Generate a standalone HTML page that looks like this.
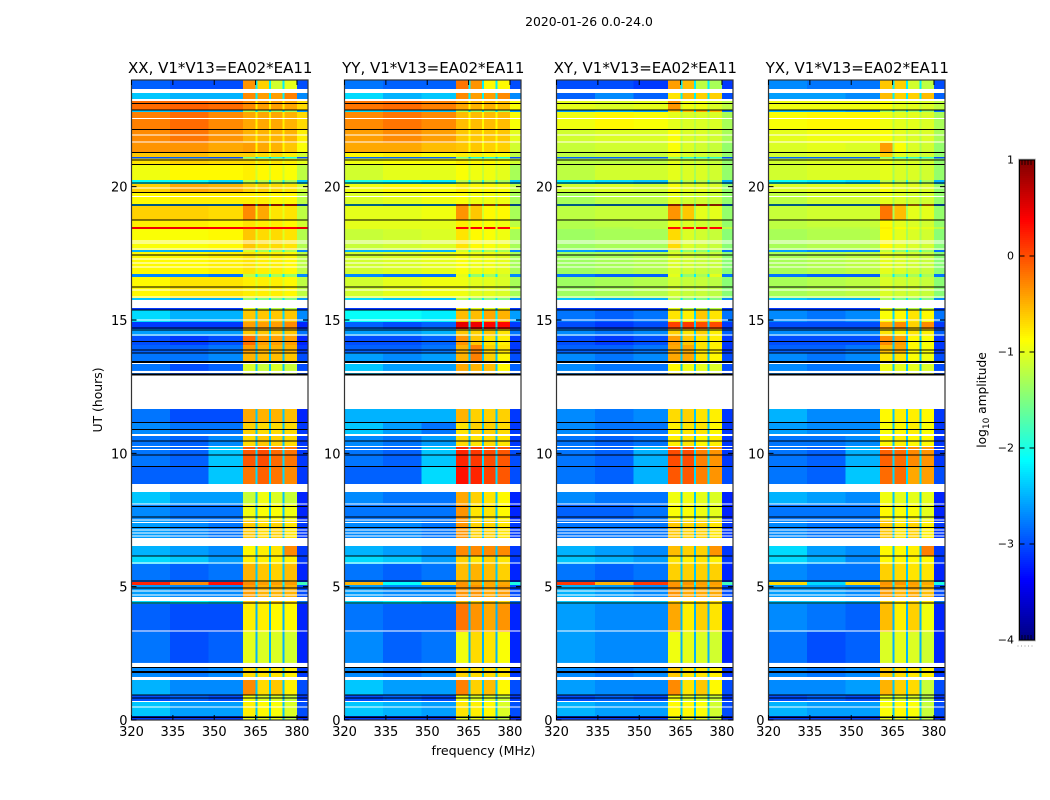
<!DOCTYPE html>
<html>
<head>
<meta charset="utf-8">
<title>2020-01-26 amplitude waterfall</title>
<style>
html,body{margin:0;padding:0;background:#fff;width:1050px;height:800px;overflow:hidden}
svg{display:block}
text{font-family:"DejaVu Sans","Liberation Sans",sans-serif;fill:#000}
</style>
</head>
<body>
<svg id="chart" xmlns="http://www.w3.org/2000/svg" width="1050" height="800" viewBox="0 0 1050 800">
  <text x="589" y="26" font-size="12.4" text-anchor="middle">2020-01-26 0.0-24.0</text>
  <text x="483.5" y="755" font-size="12.6" text-anchor="middle">frequency (MHz)</text>
  <text transform="translate(102,400) rotate(-90)" font-size="12.4" text-anchor="middle">UT (hours)</text>
  <text transform="translate(986,400) rotate(-90)" font-size="12.2" text-anchor="middle">log<tspan font-size="9" dy="3">10</tspan><tspan dy="-3"> amplitude</tspan></text>
  <g id="panels"></g>
  <g id="colorbar"></g>
</svg>
<script>
// Frequency axis (MHz): column edges, and which value of a row each column reads.
const freqEdges = [320,334,348,360.5,365,365.7,369.9,370.6,374.8,375.5,380,384];
const freqColumnValue = [0,1,2,3,7,4,7,5,7,6,8];
const freqTicks = [320,335,350,365,380];
const hourTicks = [0,5,10,15,20];
const colorTicks = [1,0,-1,-2,-3,-4];
const panelTitles = ["XX, V1*V13=EA02*EA11","YY, V1*V13=EA02*EA11","XY, V1*V13=EA02*EA11","YX, V1*V13=EA02*EA11"];

// UT hour range of each time band, listed top-down.
const bandHours = [
[24,23.66],[23.51,23.29],[23.21,22.88],[22.88,22.80],[22.80,22.13],[22.13,21.64],[21.64,21.30],[21.30,21.11],
[21.11,21.06],[21.06,20.81],[20.81,20.25],[20.25,20.10],[20.10,19.76],[19.76,19.35],[19.35,19.28],[19.28,18.75],
[18.75,18.49],[18.49,18.41],[18.41,17.63],[17.63,17.55],[17.55,16.73],[16.73,16.61],[16.61,15.83],[15.83,15.75],
[15.45,15.38],[15.38,14.93],[14.93,14.66],[14.66,14.40],[14.40,14.06],[14.06,13.76],[13.76,13.44],[13.35,13.00],
[11.66,11.18],[11.18,10.72],[10.65,10.24],[10.24,9.52],[9.52,8.85],[8.55,8.10],[8.10,7.50],[7.50,6.83],
[6.53,6.15],[6.15,5.85],[5.85,5.18],[5.18,5.06],[5.06,4.61],[4.46,4.35],[4.35,3.30],[3.30,2.14],
[1.99,1.61],[1.50,0.94],[0.94,0.71],[0.71,0.15],[0.15,0]
];

// log10 amplitude per band: 320-334, 334-348, 348-360, four high sub-bands, notches, 380-384.
const xxValues = [
[-2.9,-3,-3,-.35,-.65,-1.1,-1,-2.2,-3],[-2.4,-2.5,-2.5,-.3,-.4,-.4,-.25,-2.2,-2.7],[-.15,-.1,-.15,-.3,-.4,-.4,-.45,-.8,-.7],[-2.4,-2.5,-2.5,-1.3,-1.4,-1.4,-1.4,-2.3,-2.6],
[-.25,-.15,-.3,-.45,-.45,-.45,-.5,-.8,-.7],[-.3,-.2,-.35,-.5,-.5,-.5,-.5,-.8,-.8],[-.35,-.35,-.45,-.4,-.45,-.5,-.6,-.85,-.9],[-.6,-.55,-.65,-.65,-.7,-.7,-.8,-1,-1.1],
[-3,-2.9,-3,-1.6,-2,-2,-2,-2.5,-3],[-.75,-.65,-.7,-.7,-.75,-.75,-.8,-1,-1],[-.95,-.85,-.85,-.8,-.85,-.85,-.9,-1.1,-1.2],[-2.1,-2.1,-2.3,-1.2,-1.2,-1.2,-1.3,-2,-2.4],
[-.65,-.45,-.5,-.65,-.65,-.7,-.75,-1,-1.1],[-.85,-.8,-.8,-.8,-.8,-.85,-.85,-1,-1.2],[-2.5,-2.6,-2.6,.3,.2,.2,.2,-2,-2.8],[-.65,-.65,-.7,-.3,-.45,-.75,-.75,-1,-1.2],
[-.8,-.8,-.85,-.75,-.8,-.8,-.85,-1,-1.1],[.45,.45,.4,.3,.4,.4,.4,.4,.5],[-.9,-.9,-.85,-.6,-.7,-.7,-.75,-1.05,-1.25],[-2.5,-2.6,-2.6,-1.1,-1.3,-1.3,-1.3,-2,-2.7],
[-.85,-.85,-.8,-.75,-.8,-.8,-.85,-1.05,-1.2],[-2.7,-2.7,-2.8,-1.2,-1.4,-1.3,-1.4,-2.2,-2.7],[-.85,-.75,-.75,-.8,-.8,-.8,-.85,-1.05,-1.2],[-2.4,-2.5,-2.5,-1.4,-1.5,-1.5,-1.5,-2.2,-2.6],
[-3.1,-3.1,-3.1,-1,-1.2,-1.2,-1.2,-2.6,-3.1],[-2.3,-2.5,-2.5,-.6,-.6,-.6,-.6,-2.3,-2.7],[-3.1,-3.1,-3.1,-.4,-.4,-.4,-.3,-2.4,-3.2],[-2.6,-2.6,-2.6,-.6,-.6,-.6,-.6,-2.3,-2.8],
[-3,-3.1,-3,-.15,-.4,-.4,-.4,-2.4,-3.2],[-2.9,-2.9,-2.8,-.4,-.5,-.5,-.5,-2.4,-3.1],[-2.8,-2.8,-2.7,-.5,-.55,-.55,-.6,-2.4,-3],[-2.8,-3,-2.9,-1.05,-1.15,-1.05,-1.15,-2.4,-3],
[-2.8,-3,-3,-.45,-.5,-.5,-.55,-2.4,-3.2],[-2.7,-2.8,-2.8,-.65,-.7,-.7,-.7,-2.4,-3.1],[-2.8,-2.9,-2.7,-.7,-.6,-.65,-.7,-2.4,-3.1],[-2.8,-2.9,-2.4,-.05,.0,-.15,-.2,-2.3,-3.1],
[-2.9,-2.9,-2.4,-.2,-.1,-.2,-.3,-2.3,-3.1],[-2.4,-2.6,-2.6,-1.15,-.95,-1.05,-1.15,-2.4,-3.2],[-2.7,-2.8,-2.8,-.95,-.9,-.9,-.95,-2.4,-3.2],[-2.6,-2.7,-2.8,-.6,-.7,-.65,-.75,-2.4,-3.1],
[-2.5,-2.6,-2.7,-.85,-.8,-.75,-.3,-2.4,-3.1],[-2.3,-2.4,-2.6,-.8,-.8,-.8,-.8,-2.4,-3.1],[-2.8,-2.9,-2.8,-.5,-.6,-.65,-.55,-2.4,-3.2],[.2,-.3,.3,-.3,-.4,-.4,-.4,-2.2,-1.8],
[-2.6,-2.7,-2.7,-.4,-.5,-.5,-.5,-2.4,-3],[-2.3,-2.2,-2.3,-.6,-.7,-.6,-.7,-2.3,-2.8],[-2.9,-3,-3,-.8,-.8,-.85,-.85,-2.5,-3.2],[-2.8,-3,-2.9,-1,-1.05,-1.05,-1.1,-2.5,-3.2],
[-2.7,-2.8,-2.7,-.7,-.75,-.75,-.8,-2.4,-3.1],[-2.5,-2.7,-2.7,-.3,-.7,-.6,-.8,-2.4,-3],[-3,-2.9,-3,-.95,-1.05,-1.05,-1.15,-2.5,-3.1],[-2.4,-2.6,-2.6,-.8,-.85,-.9,-1.05,-2.4,-3],
[-3.1,-3.1,-3.1,-1,-1,-1,-1.2,-2.5,-3.2]
];
const yyValues = [
[-2.8,-2.9,-2.9,-.2,-.35,-.85,-.85,-2.2,-3],[-2.3,-2.5,-2.4,-.3,-.4,-.4,-.3,-2.2,-2.7],[-.2,-.15,-.25,-.45,-.5,-.5,-.55,-.85,-.9],[-2.3,-2.4,-2.4,-1.3,-1.4,-1.4,-1.4,-2.3,-2.6],
[-.3,-.2,-.3,-.55,-.55,-.55,-.55,-.85,-.9],[-.4,-.3,-.4,-.6,-.6,-.6,-.6,-.85,-1],[-.45,-.45,-.55,-.6,-.6,-.65,-.65,-.9,-1.1],[-.85,-.8,-.9,-.8,-.8,-.85,-.9,-1.05,-1.2],
[-2.9,-2.9,-2.9,-1.6,-2,-2,-2,-2.5,-3],[-.95,-.9,-.9,-.8,-.85,-.85,-.9,-1.1,-1.1],[-1.1,-1,-1,-.9,-.95,-.95,-1,-1.15,-1.3],[-2,-2.1,-2.2,-1.2,-1.2,-1.2,-1.3,-2,-2.4],
[-.95,-.85,-.9,-.8,-.85,-.85,-.9,-1.05,-1.2],[-1.05,-1,-.95,-.9,-.95,-.95,-.95,-1.15,-1.3],[-2.4,-2.5,-2.5,-.1,-.1,-.2,-.2,-2,-2.7],[-1,-1,-.95,-.35,-.6,-.85,-.85,-1.1,-1.3],
[-1,-1,-1,-.8,-.85,-.9,-.95,-1.1,-1.2],[-1,-1,-1,.35,.4,.4,.35,-1,-.9],[-1.15,-1.1,-1.05,-.75,-.85,-.9,-.95,-1.15,-1.3],[-2.5,-2.5,-2.5,-1.1,-1.3,-1.3,-1.3,-2,-2.7],
[-1.1,-1.05,-1,-.9,-.95,-.95,-1,-1.15,-1.3],[-2.7,-2.8,-2.8,-1,-1.4,-1.3,-1.1,-2.2,-2.7],[-1.1,-1,-.95,-.95,-1,-1,-1.05,-1.15,-1.3],[-2.3,-2.4,-2.4,-1.3,-1.5,-1.5,-1.5,-2.2,-2.6],
[-3.1,-3.1,-3.1,-.8,-1,-1,-1,-2.6,-3.1],[-2.1,-2.1,-2.2,-.55,-.55,-.45,-.5,-2.2,-2.6],[-2.9,-3,-2.9,.5,.45,.35,.35,-2.3,-3.1],[-2.6,-2.6,-2.5,-.6,-.65,-.6,-.75,-2.3,-2.8],
[-3,-3,-2.9,-.35,-.6,-.75,-.8,-2.4,-3.1],[-2.9,-2.9,-2.8,-.5,-.25,-.65,-.75,-2.4,-3.1],[-2.6,-2.7,-2.6,-.5,-.25,-.65,-.85,-2.4,-3],[-2.4,-2.6,-2.6,-.45,-.5,-.55,-.85,-2.4,-2.9],
[-2.5,-2.5,-2.5,-.5,-.65,-.65,-.65,-2.4,-3.1],[-2.4,-2.6,-2.8,-.75,-.65,-.65,-.7,-2.4,-3.1],[-2.7,-2.8,-2.6,-.7,-.75,-.7,-.75,-2.4,-3.1],[-2.8,-2.9,-2.4,.2,.1,.0,-.05,-2.3,-3],
[-2.9,-2.9,-2.3,.3,.2,.05,-.05,-2.3,-3],[-2.7,-2.8,-2.8,-.45,-.65,-.75,-.85,-2.4,-3.2],[-2.8,-2.8,-2.8,-.35,-.75,-.75,-.85,-2.4,-3.2],[-2.7,-2.7,-2.8,-.35,-.65,-.65,-.75,-2.4,-3.1],
[-2.5,-2.6,-2.7,-.3,-.3,-.3,-.3,-2.4,-3.1],[-2.3,-2.4,-2.6,-.65,-.75,-.65,-.75,-2.4,-3.1],[-2.8,-2.9,-2.8,-.55,-.5,-.55,-.65,-2.4,-3.2],[-.5,-2.1,-.7,-.35,-.45,-.45,-.45,-2.2,-2],
[-2.6,-2.7,-2.7,-.35,-.35,-.45,-.4,-2.4,-3],[-2.3,-2.2,-2.3,-.55,-.65,-.55,-.65,-2.3,-2.8],[-2.8,-2.9,-2.9,-.2,-.35,-.45,-.35,-2.5,-3.2],[-2.7,-2.9,-2.8,-.95,-.7,-.75,-.9,-2.5,-3.2],
[-2.7,-2.8,-2.7,-.65,-.7,-.7,-.75,-2.4,-3.1],[-2.4,-2.6,-2.6,-.25,-.65,-.55,-.85,-2.4,-3],[-3,-2.9,-3,-.95,-1.05,-1.05,-1.15,-2.5,-3.1],[-2.4,-2.5,-2.6,-.75,-.8,-.85,-1.05,-2.4,-3],
[-3.1,-3.1,-3.1,-1,-1,-1,-1.2,-2.5,-3.2]
];
const xyValues = [
[-3,-3,-3.1,-.4,-.55,-1.2,-1.3,-2.2,-3.1],[-2.9,-2.7,-2.9,-.75,-.55,-.65,-.65,-2.2,-3],[-1,-1.05,-1,-.35,-.95,-.95,-1.05,-1.2,-1.2],[-2.6,-2.5,-2.6,-.6,-.5,-.4,-.5,-2.3,-2.8],
[-.95,-.85,-.9,-1,-1.05,-1.05,-1.05,-1.2,-1.3],[-1.1,-1.05,-1.05,-.9,-1.05,-1.05,-1.1,-1.25,-1.3],[-1.15,-1.1,-1.1,-.9,-1.05,-1.1,-1.15,-1.3,-1.4],[-1.2,-1.15,-1.15,-.95,-1.05,-1.1,-1.15,-1.3,-1.4],
[-2.9,-2.9,-2.9,-1.5,-1.9,-1.9,-1.9,-2.5,-3],[-1.2,-1.2,-1.2,-1,-1.1,-1.1,-1.15,-1.3,-1.4],[-1.2,-1.1,-1.1,-1,-1.05,-1.05,-1.1,-1.3,-1.4],[-2.2,-2.3,-2.4,-1.2,-1.2,-1.2,-1.3,-2,-2.5],
[-1.1,-1.05,-1.1,-.9,-1,-1,-1.05,-1.25,-1.4],[-1.3,-1.2,-1.2,-1,-1.1,-1.1,-1.15,-1.3,-1.4],[-2.5,-2.6,-2.6,.1,.0,.1,.1,-2,-2.8],[-1.2,-1.15,-1.15,-.35,-.6,-1,-1,-1.3,-1.4],
[-1.25,-1.2,-1.2,-.95,-1.05,-1.1,-1.1,-1.3,-1.4],[-1.25,-1.25,-1.2,.3,.3,.4,.35,-1.2,-1.2],[-1.35,-1.3,-1.3,-.7,-1.05,-1.1,-1.15,-1.3,-1.45],[-2.6,-2.7,-2.7,-1.2,-1.4,-1.4,-1.4,-2.1,-2.8],
[-1.35,-1.3,-1.25,-1.05,-1.1,-1.15,-1.15,-1.3,-1.45],[-2.8,-2.9,-2.9,-1,-1.4,-1.3,-1,-2.2,-2.8],[-1.35,-1.3,-1.25,-1.1,-1.15,-1.15,-1.2,-1.3,-1.45],[-2.4,-2.5,-2.5,-1.3,-1.5,-1.5,-1.5,-2.2,-2.7],
[-3.1,-3.1,-3.1,-1,-1.2,-1.2,-1.2,-2.6,-3.1],[-2.8,-2.9,-2.8,-.75,-.8,-.6,-.75,-2.3,-2.8],[-3,-3.1,-3,.05,.1,0,0,-2.4,-3.1],[-2.7,-2.8,-2.7,-.65,-.75,-.65,-.8,-2.3,-2.9],
[-3,-3.1,-3,-.4,-.6,-.75,-.8,-2.4,-3.1],[-2.9,-2.9,-2.8,-.45,-.45,-.75,-.8,-2.4,-3.1],[-2.7,-2.8,-2.7,-.45,-.45,-.75,-.85,-2.4,-3],[-2.7,-2.8,-2.8,-.85,-.95,-1,-1.05,-2.4,-3],
[-2.7,-2.8,-2.7,-.7,-.65,-.75,-.8,-2.4,-3.1],[-2.7,-2.8,-2.8,-.8,-.75,-.75,-.85,-2.4,-3.1],[-2.8,-2.9,-2.8,-.8,-.75,-.85,-.8,-2.4,-3.1],[-2.8,-2.9,-2.5,.0,.0,-.25,-.35,-2.3,-3.1],
[-2.8,-2.9,-2.5,-.05,-.05,-.25,-.35,-2.3,-3],[-2.7,-2.8,-2.8,-.95,-.95,-1,-1.05,-2.4,-3.2],[-2.9,-2.9,-2.8,-.9,-.9,-.95,-1,-2.4,-3.2],[-2.8,-2.8,-2.8,-.6,-.65,-.65,-.75,-2.4,-3.1],
[-2.5,-2.6,-2.7,-.55,-.65,-.65,-.35,-2.4,-3.1],[-2.4,-2.5,-2.6,-.75,-.8,-.75,-.8,-2.4,-3.1],[-2.8,-2.9,-2.8,-.65,-.65,-.65,-.65,-2.4,-3.2],[.1,-.5,.1,-.35,-.35,-.4,-.4,-2.2,-1.8],
[-2.5,-2.6,-2.7,-.35,-.45,-.45,-.45,-2.4,-3],[-2.4,-2.4,-2.4,-.65,-.7,-.65,-.7,-2.3,-2.8],[-2.6,-2.7,-2.7,-.45,-.8,-.65,-.75,-2.5,-3.2],[-2.6,-2.7,-2.7,-.95,-1,-1.05,-1.1,-2.5,-3.2],
[-2.7,-2.8,-2.7,-.6,-.75,-.75,-.8,-2.4,-3.1],[-2.6,-2.7,-2.7,-.3,-.75,-.6,-.85,-2.4,-3],[-3,-2.9,-3,-.95,-1.05,-1.05,-1.15,-2.5,-3.1],[-2.5,-2.6,-2.6,-.85,-.85,-.9,-1.1,-2.4,-3],
[-3.1,-3.1,-3.1,-1,-1,-1,-1.2,-2.5,-3.2]
];
const yxValues = [
[-2.7,-2.8,-2.8,-.6,-.65,-1.1,-1.2,-2.2,-3],[-2.6,-2.6,-2.7,-.55,-.65,-.65,-.55,-2.2,-2.9],[-.95,-.95,-.95,-.9,-1,-1,-1.05,-1.2,-1.2],[-2.5,-2.5,-2.6,-1.4,-1.4,-1.4,-1.4,-2.3,-2.8],
[-.9,-.85,-.85,-.95,-1,-1,-1.05,-1.2,-1.3],[-1,-.95,-.95,-.9,-1,-1.05,-1.05,-1.25,-1.3],[-1.05,-1,-1.05,-.4,-.9,-1.05,-1.1,-1.3,-1.4],[-1.1,-1.05,-1.05,-.65,-1,-1.05,-1.1,-1.3,-1.4],
[-2.9,-2.9,-2.9,-1.5,-1.9,-1.9,-1.9,-2.5,-3],[-1.1,-1.05,-1.05,-.95,-1.05,-1.05,-1.1,-1.3,-1.4],[-1.1,-1.05,-1.05,-1,-1.05,-1.05,-1.1,-1.3,-1.4],[-2.1,-2.2,-2.3,-1.2,-1.2,-1.2,-1.3,-2,-2.5],
[-1.05,-1,-1,-.9,-1,-1,-1.05,-1.25,-1.4],[-1.2,-1.1,-1.1,-1,-1.05,-1.1,-1.1,-1.3,-1.4],[-2.5,-2.6,-2.6,-.3,-.4,-.4,-.4,-2,-2.8],[-1.15,-1.1,-1.1,-.2,-.55,-1,-1,-1.3,-1.4],
[-1.2,-1.15,-1.15,-.85,-1,-1.05,-1.1,-1.3,-1.4],[-1.2,-1.2,-1.2,-.8,-.9,-.95,-1,-1.2,-1.2],[-1.3,-1.25,-1.25,-.85,-1,-1.05,-1.1,-1.3,-1.45],[-2.6,-2.7,-2.7,-1.2,-1.4,-1.4,-1.4,-2.1,-2.8],
[-1.3,-1.25,-1.2,-1,-1.05,-1.1,-1.15,-1.3,-1.45],[-2.8,-2.9,-2.9,-1.2,-1.4,-1.3,-1.3,-2.2,-2.8],[-1.3,-1.25,-1.2,-1.05,-1.1,-1.1,-1.15,-1.3,-1.45],[-2.4,-2.5,-2.5,-1.3,-1.5,-1.5,-1.5,-2.2,-2.7],
[-3.1,-3.1,-3.1,-1,-1.2,-1.2,-1.2,-2.6,-3.1],[-2.7,-2.8,-2.7,-.9,-.85,-.75,-.85,-2.3,-2.8],[-3,-3,-3,-.45,-.3,-.65,-.3,-2.4,-3.1],[-2.7,-2.7,-2.7,-.75,-.8,-.75,-.8,-2.3,-2.9],
[-3,-3,-3,-.3,-.4,-.85,-.9,-2.4,-3.1],[-2.9,-2.9,-2.8,-.55,-.45,-.85,-.9,-2.4,-3.1],[-2.7,-2.8,-2.7,-.75,-.75,-.9,-.95,-2.4,-3],[-2.7,-2.8,-2.8,-.95,-1,-1,-1.05,-2.4,-3],
[-2.5,-2.7,-2.7,-.85,-.8,-.8,-.85,-2.4,-3.1],[-2.6,-2.7,-2.7,-.9,-.85,-.8,-.9,-2.4,-3.1],[-2.8,-2.8,-2.7,-.85,-.8,-.85,-.85,-2.4,-3.1],[-2.8,-2.9,-2.5,-.1,-.15,-.3,-.35,-2.3,-3.1],
[-2.8,-2.9,-2.4,-.15,-.15,-.45,-.4,-2.3,-3],[-2.5,-2.6,-2.7,-.95,-1,-1,-1,-2.4,-3.2],[-2.8,-2.8,-2.8,-.85,-.9,-.9,-1,-2.4,-3.2],[-2.7,-2.8,-2.8,-.6,-.75,-.65,-.8,-2.4,-3.1],
[-2.3,-2.6,-2.7,-.85,-.85,-.8,-.25,-2.4,-3.1],[-2.3,-2.5,-2.7,-.85,-.85,-.85,-.85,-2.4,-3.1],[-2.7,-2.8,-2.8,-.65,-.7,-.75,-.75,-2.4,-3.2],[-.7,-2.3,-.7,-.35,-.35,-.4,-.45,-2.2,-2],
[-2.6,-2.6,-2.7,-.4,-.5,-.45,-.55,-2.4,-3],[-2.4,-2.4,-2.5,-.65,-.75,-.7,-.75,-2.3,-2.8],[-2.7,-2.8,-2.9,-.55,-.8,-.65,-.95,-2.5,-3.2],[-2.8,-3,-2.9,-1.05,-1,-1.05,-1.1,-2.5,-3.2],
[-2.7,-2.8,-2.7,-.6,-.7,-.75,-.8,-2.4,-3.1],[-2.7,-2.7,-2.6,-.5,-.65,-.7,-1.15,-2.4,-3],[-3,-2.9,-3,-1,-1.05,-1.05,-1.25,-2.5,-3.1],[-2.5,-2.6,-2.6,-.9,-.85,-.9,-1.15,-2.4,-3],
[-3.1,-3.1,-3.1,-1,-1,-1,-1.2,-2.5,-3.2]
];
const panelValues = [xxValues,yyValues,xyValues,yxValues];

// Flagged samples in UT hours.
const flaggedGaps = [[13.09,13.01],[2.14,1.99],[1.61,1.5]];
const thinFlaggedHours = [22.55,21.94,21.68,19.95,19.63,17.96,17.89,17.66,17.29,17.14,16.99,16.13,15.86,15.0,14.44,13.37,10.25,10.15,8.63,8.56,8.10,7.5,7.40,7.13,7.01,6.9,5.89,4.84,4.69,3.34,0.69,0.49];
const blackLineHours = [23.12,22.88,22.14,21.28,21.00,20.83,20.14,19.78,19.31,18.75,17.44,16.24,15.38,14.70,14.63,14.19,13.88,13.76,13.44,13.41,12.97,12.94,11.16,10.89,10.47,9.94,9.50,8.00,7.61,7.22,6.15,5.21,4.95,4.39,1.97,1.81,1.78,0.94,0.83,0.12,0.10];

const NS = "http://www.w3.org/2000/svg";
const panelLefts = [131.5,344.5,556.5,768.5];
const plotWidth = 176.5, plotTop = 80, plotBottom = 720;

function make(parent, tag, attrs, text){
  const el = document.createElementNS(NS, tag);
  for (const k in attrs) el.setAttribute(k, attrs[k]);
  if (text !== undefined) el.textContent = text;
  parent.appendChild(el);
  return el;
}
function xScale(left, mhz){ return left + (mhz - 320) / 64 * plotWidth; }
function yScale(hour){ return plotBottom - hour / 24 * (plotBottom - plotTop); }
function jet(v){
  const t = Math.max(0, Math.min(1, (v + 4) / 5));
  const ch = c => Math.round(255 * Math.max(0, Math.min(1, 1.5 - Math.abs(4 * t - c))));
  return "rgb(" + ch(3) + "," + ch(2) + "," + ch(1) + ")";
}
const panelsRoot = document.getElementById("panels");

panelLefts.forEach(function(left, p){
  const g = make(panelsRoot, "g", {});
  
  
  const values = panelValues[p];
  const cells = make(g, "g", {"shape-rendering":"crispEdges"});
  
  
  bandHours.forEach(function(band, b){
    freqColumnValue.forEach(function(valueIndex, c){
      const x0 = xScale(left, freqEdges[c]), x1 = xScale(left, freqEdges[c+1]);
      const y0 = yScale(band[0]), y1 = yScale(band[1]);
      const cell = make(cells, "rect", {x:x0, y:y0, width:x1-x0, height:y1-y0, fill:jet(values[b][valueIndex])});
      
      
    });
  });
  flaggedGaps.forEach(function(gap){
    const r = make(g, "rect", {x:left, y:yScale(gap[0]), width:plotWidth, height:yScale(gap[1])-yScale(gap[0]), fill:"#fff"});
    
    
  });
  thinFlaggedHours.forEach(function(h){
    const l = make(g, "line", {x1:left, x2:left+plotWidth, y1:yScale(h), y2:yScale(h), stroke:"#fff", "stroke-width":1, "shape-rendering":"crispEdges"});
    
    
  });
  blackLineHours.forEach(function(h){
    const l = make(g, "line", {x1:left, x2:left+plotWidth, y1:yScale(h), y2:yScale(h), stroke:"#000", "stroke-width":1, "shape-rendering":"crispEdges"});
    
    
  });
  const frame = make(g, "rect", {x:left, y:plotTop, width:plotWidth, height:plotBottom-plotTop, fill:"none", stroke:"#333", "stroke-width":1.2});
  
  
  const title = make(g, "text", {x:left+plotWidth/2+0.5, y:73, "font-size":15, "text-anchor":"middle"}, panelTitles[p]);
  
  
  freqTicks.forEach(function(f){
    const x = xScale(left, f);
    const t = make(g, "path", {d:"M"+x+" "+plotBottom+"v-5M"+x+" "+plotTop+"v5", stroke:"#000", "stroke-width":1, fill:"none"});
    
    
    const label = make(g, "text", {x:x, y:736, "font-size":13, "text-anchor":"middle"}, String(f));
    
    
  });
  hourTicks.forEach(function(h){
    const y = yScale(h);
    const t = make(g, "path", {d:"M"+left+" "+y+"h5M"+(left+plotWidth)+" "+y+"h-5", stroke:"#000", "stroke-width":1, fill:"none"});
    
    
    const label = make(g, "text", {x:left-4, y:y+5, "font-size":13, "text-anchor":"end"}, String(h));
    
    
  });
});

// Colorbar
const cbRoot = document.getElementById("colorbar");
const cbLeft = 1019.5, cbRight = 1034.5, cbTop = 160, cbBottom = 640;
function cbY(v){ return cbBottom - (v + 4) / 5 * (cbBottom - cbTop); }
const ramp = make(cbRoot, "g", {"shape-rendering":"crispEdges"});


for (let i = 0; i < 240; i++){
  const v = -4 + (i + 0.5) * 5 / 240;
  const r = make(ramp, "rect", {x:cbLeft, y:cbY(v)-1.2, width:cbRight-cbLeft, height:2.4, fill:jet(v)});
  
  
}
const cbFrame = make(cbRoot, "rect", {x:cbLeft, y:cbTop, width:cbRight-cbLeft, height:cbBottom-cbTop, fill:"none", stroke:"#000", "stroke-width":1});


const cbOuter = make(cbRoot, "rect", {x:cbLeft-0.9, y:cbTop-0.9, width:cbRight-cbLeft+1.8, height:cbBottom-cbTop+1.8, fill:"none", stroke:"#aaa", "stroke-width":0.8});


colorTicks.forEach(function(v){
  const y = cbY(v);
  const t = make(cbRoot, "path", {d:"M"+cbLeft+" "+y+"h5M"+cbRight+" "+y+"h-5", stroke:"#000", "stroke-width":1, fill:"none"});
  
  
  const label = make(cbRoot, "text", {x:1014, y:y+3.5, "font-size":11, "text-anchor":"end"}, String(v).replace("-", "\u2212"));
  
  
});
const minorTop = make(cbRoot, "path", {d:"M1022 160v5M1025 160v5M1028 160v5M1031 160v5M1022 640v-5M1025 640v-5M1028 640v-5M1031 640v-5", stroke:"#000", "stroke-width":0.8, fill:"none"});


const dots = make(cbRoot, "line", {x1:1017.5, x2:1035, y1:646, y2:646, stroke:"#999", "stroke-width":1, "stroke-dasharray":"1 2.5"});


</script>
</body>
</html>
